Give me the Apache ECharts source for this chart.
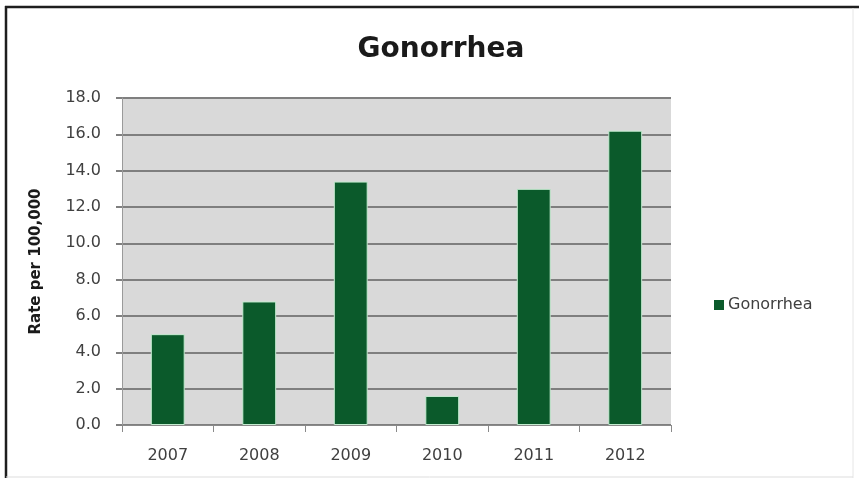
<!DOCTYPE html>
<html>
<head>
<meta charset="utf-8">
<script src="https://cdn.jsdelivr.net/npm/echarts@6/dist/echarts.min.js"></script>
<style>
html,body{margin:0;padding:0;background:#fff;}
#chart{width:859px;height:478px;}
</style>
</head>
<body>
<div id="chart"></div>
<script>
const titleText = 'Gonorrhea';
const categories = ['2007', '2008', '2009', '2010', '2011', '2012'];
const seriesName = 'Gonorrhea';
const values = [5.0, 6.8, 13.4, 1.6, 13.0, 16.2];
const yAxisName = 'Rate per 100,000';
const yMin = 0, yMax = 18, yStep = 2;

const chart = echarts.init(document.getElementById('chart'), null, {renderer: 'canvas'});
chart.setOption({
  animation: false,
  backgroundColor: '#ffffff',
  title: {
    text: titleText,
    left: 436, top: 31, textAlign: 'center',
    textStyle: {fontFamily: 'DejaVu Sans', fontWeight: 'bold', fontSize: 28, color: '#1a1a1a'}
  },
  legend: {
    orient: 'vertical',
    left: 709, top: 292,
    itemWidth: 10, itemHeight: 10, itemGap: 8,
    icon: 'rect',
    itemStyle: {borderWidth: 0},
    textStyle: {fontFamily: 'DejaVu Sans', fontSize: 16, color: '#404040', padding: [0,0,0,-1]},
    data: [seriesName]
  },
  grid: {left: 122, right: 188, top: 98, bottom: 53, show: true, backgroundColor: '#d9d9d9', borderWidth: 0},
  xAxis: {
    type: 'category',
    data: categories,
    axisLine: {lineStyle: {color: '#8a8a8a', width: 1}},
    axisTick: {show: true, length: 7, lineStyle: {color: '#8a8a8a'}},
    axisLabel: {fontFamily: 'DejaVu Sans', fontSize: 16, color: '#404040', margin: 23}
  },
  yAxis: {
    type: 'value',
    min: yMin, max: yMax, interval: yStep,
    name: yAxisName,
    nameLocation: 'middle',
    nameGap: 78,
    nameRotate: 90,
    nameTextStyle: {fontFamily: 'DejaVu Sans', fontWeight: 'bold', fontSize: 15, color: '#1a1a1a'},
    axisLine: {show: true, lineStyle: {color: '#9a9a9a', width: 1}},
    axisTick: {show: true, length: 6, lineStyle: {color: '#7f7f7f', width: 2}},
    axisLabel: {fontFamily: 'DejaVu Sans', fontSize: 16, color: '#404040', margin: 21,
      padding: [5, 0, 0, 0],
      formatter: v => v.toFixed(1)},
    splitLine: {show: true, lineStyle: {color: '#7f7f7f', width: 2}}
  },
  series: [{
    name: seriesName,
    type: 'bar',
    data: values,
    barWidth: '37%',
    itemStyle: {color: '#0b5a2b', borderColor: '#c4ecd0', borderWidth: 1}
  }],
  graphic: [
    {type: 'line', shape: {x1: 6, y1: 6, x2: 6, y2: 478}, style: {stroke: '#1e1e1e', lineWidth: 2.5}},
    {type: 'line', shape: {x1: 5, y1: 7, x2: 859, y2: 7}, style: {stroke: '#1e1e1e', lineWidth: 2.5}},
    {type: 'line', shape: {x1: 853, y1: 8, x2: 853, y2: 478}, style: {stroke: '#e6e6e6', lineWidth: 1}},
    {type: 'line', shape: {x1: 6, y1: 477, x2: 853, y2: 477}, style: {stroke: '#dddddd', lineWidth: 1}}
  ]
});
</script>
</body>
</html>
